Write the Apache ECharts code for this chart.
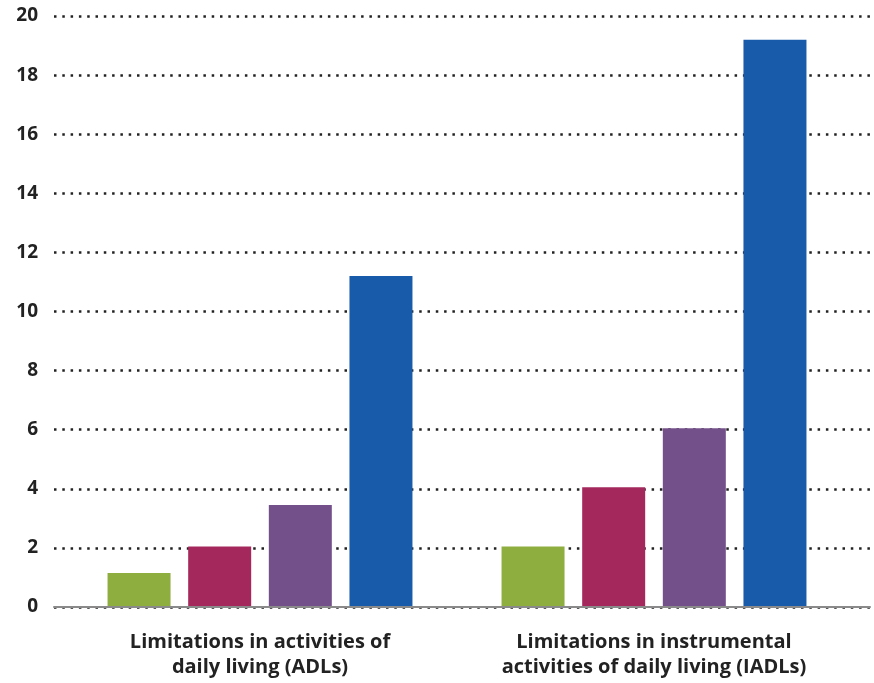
<!DOCTYPE html>
<html lang="en">
<head>
  <meta charset="UTF-8">
  <title>Limitations in ADLs and IADLs</title>
  <script src="https://cdn.jsdelivr.net/npm/echarts@6/dist/echarts.min.js"></script>
  <style>
    html, body { margin: 0; padding: 0; background: #fff; }
  </style>
</head>
<body>
<div id="main" style="width: 874px;height:683px;"></div>
<script>
  // categories and values
  var categories = [
    'Limitations in activities of\ndaily living (ADLs)',
    'Limitations in instrumental\nactivities of daily living (IADLs)'
  ];
  var greenValues = [1.15, 2.05];
  var crimsonValues = [2.05, 4.05];
  var purpleValues = [3.45, 6.05];
  var blueValues = [11.2, 19.2];
  var yTicks = [0, 2, 4, 6, 8, 10, 12, 14, 16, 18, 20];

  var colors = ['#8fae40', '#a5285c', '#74508a', '#195bab'];
  var font = '"Open Sans", sans-serif';

  var myChart = echarts.init(document.getElementById('main'));

  function bar(name, data, color) {
    return {
      name: name,
      type: 'bar',
      xAxisIndex: 1,
      yAxisIndex: 1,
      barWidth: 63,
      barGap: '28%',
      itemStyle: { color: color },
      data: data
    };
  }

  myChart.setOption({
    backgroundColor: '#ffffff',
    animation: false,
    grid: [
      // background grid: dotted lines and y labels
      { left: 54, right: 4, top: 16, bottom: 76 },
      // bars
      { left: 63, right: 23, top: 16, bottom: 76 }
    ],
    xAxis: [
      {
        gridIndex: 0,
        type: 'category',
        data: [''],
        axisLine: { show: true, lineStyle: { color: '#8a8a8a', width: 2 } },
        axisTick: { show: false },
        axisLabel: { show: false },
        z: 5
      },
      {
        gridIndex: 1,
        type: 'category',
        data: categories,
        axisLine: { show: false },
        axisTick: { show: false },
        axisLabel: {
          interval: 0,
          margin: 23,
          color: '#222',
          fontFamily: font,
          fontWeight: 'bold',
          fontSize: 20,
          lineHeight: 25,
          align: 'center'
        }
      }
    ],
    yAxis: [
      {
        gridIndex: 0,
        type: 'value',
        min: yTicks[0],
        max: yTicks[yTicks.length - 1],
        interval: 2,
        axisLine: { show: false },
        axisTick: { show: false },
        axisLabel: {
          margin: 16,
          color: '#222',
          fontFamily: font,
          fontWeight: 'bold',
          fontSize: 19
        },
        splitLine: {
          show: true,
          lineStyle: { color: '#222', width: 2.5, type: [2.5, 5.8] }
        }
      },
      {
        gridIndex: 1,
        type: 'value',
        min: yTicks[0],
        max: yTicks[yTicks.length - 1],
        interval: 2,
        axisLine: { show: false },
        axisTick: { show: false },
        axisLabel: { show: false },
        splitLine: { show: false }
      }
    ],
    series: [
      bar('Green', greenValues, colors[0]),
      bar('Crimson', crimsonValues, colors[1]),
      bar('Purple', purpleValues, colors[2]),
      bar('Blue', blueValues, colors[3])
    ]
  });
</script>
</body>
</html>
